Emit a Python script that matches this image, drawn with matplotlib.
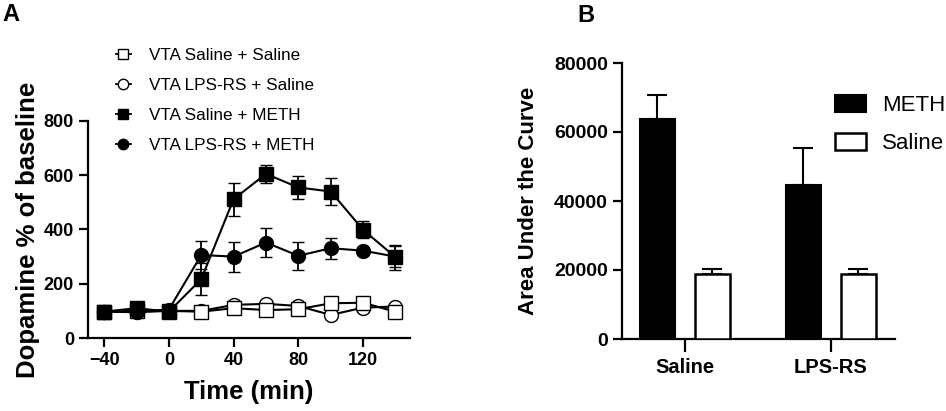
import numpy as np
import matplotlib
matplotlib.use("Agg")
import matplotlib.pyplot as plt
from matplotlib.lines import Line2D
from matplotlib.patches import Patch

plt.rcParams['font.family'] = ['Liberation Sans', 'DejaVu Sans']

# panel A data
time = [-40, -20, 0, 20, 40, 60, 80, 100, 120, 140]
sal_sal = [97, 100, 100, 97, 110, 103, 106, 128, 130, 97]
sal_sal_err = [10, 10, 10, 10, 12, 12, 12, 15, 15, 10]
lps_sal = [97, 95, 100, 100, 122, 126, 118, 85, 112, 116]
lps_sal_err = [10, 10, 10, 10, 12, 12, 12, 15, 15, 10]
sal_meth = [97, 110, 97, 217, 512, 605, 555, 540, 399, 298]
sal_meth_err = [12, 12, 12, 58, 61, 34, 43, 49, 32, 46]
lps_meth = [97, 97, 105, 306, 300, 352, 303, 331, 322, 300]
lps_meth_err = [12, 12, 12, 50, 55, 52, 52, 38, 15, 40]

# panel B data
groups = ["Saline", "LPS-RS"]
auc_meth = [63800, 44600]
auc_meth_err = [6800, 10900]
auc_saline = [18900, 18900]
auc_saline_err = [1350, 1400]

fig = plt.figure(figsize=(9.46, 4.11), dpi=100)

# ---- panel A
axA = fig.add_axes([88/946, 1-338/411, (410-88)/946, (338-121)/411])
series = [
    (lps_sal, lps_sal_err, 'o', 'white'),
    (sal_sal, sal_sal_err, 's', 'white'),
    (lps_meth, lps_meth_err, 'o', 'black'),
    (sal_meth, sal_meth_err, 's', 'black'),
]
for i, (y, e, m, fc) in enumerate(series):
    axA.errorbar(time, y, yerr=e, color='black', lw=1.5, elinewidth=1.3,
                 capsize=4.5, capthick=1.3, marker=m, markersize=10,
                 markerfacecolor=fc, markeredgecolor='black', markeredgewidth=1.0,
                 zorder=3 + i, clip_on=False)

axA.set_xlim(-50, 149)
axA.set_ylim(0, 800)
axA.set_xticks([-40, 0, 40, 80, 120])
axA.set_yticks([0, 200, 400, 600, 800])
for s in ['top', 'right']:
    axA.spines[s].set_visible(False)
for s in ['left', 'bottom']:
    axA.spines[s].set_linewidth(1.6)
axA.tick_params(width=1.6, length=6.5, labelsize=13)
for t in axA.get_xticklabels() + axA.get_yticklabels():
    t.set_fontweight('bold')
axA.set_xlabel("Time (min)", fontsize=18.5, fontweight='bold', labelpad=8)
axA.set_ylabel("Dopamine % of baseline", fontsize=18.5, fontweight='bold', labelpad=3)

handles = [
    Line2D([], [], color='black', lw=1.3, marker='s', markersize=7.5, markerfacecolor='white', markeredgecolor='black'),
    Line2D([], [], color='black', lw=1.3, marker='o', markersize=7.5, markerfacecolor='white', markeredgecolor='black'),
    Line2D([], [], color='black', lw=1.3, marker='s', markersize=7.5, markerfacecolor='black', markeredgecolor='black'),
    Line2D([], [], color='black', lw=1.3, marker='o', markersize=7.5, markerfacecolor='black', markeredgecolor='black'),
]
labels = ["VTA Saline + Saline", "VTA LPS-RS + Saline", "VTA Saline + METH", "VTA LPS-RS + METH"]
fig.legend(handles, labels, loc='upper left', bbox_to_anchor=(116/946, 1-48/411),
           frameon=False, fontsize=12.3, borderpad=0, borderaxespad=0,
           handlelength=0.85, handletextpad=1.1, labelspacing=0.88)

fig.text(2/946, 1-3/411, "A", fontsize=17, fontweight='bold', va='top', ha='left')

# ---- panel B
axB = fig.add_axes([622/946, 1-339/411, (895-622)/946, (339-63)/411])
xpos = np.arange(len(groups))
w = 0.24
off = 0.187
axB.bar(xpos - off, auc_meth, width=w, color='black', edgecolor='black', lw=1.5,
        yerr=[[0] * 2, auc_meth_err], capsize=7, error_kw=dict(elinewidth=1.5, capthick=1.5, ecolor='black'),
        zorder=3)
axB.bar(xpos + off, auc_saline, width=w, color='white', edgecolor='black', lw=1.8,
        yerr=[[0] * 2, auc_saline_err], capsize=7, error_kw=dict(elinewidth=1.5, capthick=1.5, ecolor='black'),
        zorder=3)
axB.set_xlim(-0.43, 1.44)
axB.set_ylim(0, 80000)
axB.set_yticks([0, 20000, 40000, 60000, 80000])
axB.set_xticks(xpos)
axB.set_xticklabels(groups)
for s in ['top', 'right']:
    axB.spines[s].set_visible(False)
for s in ['left', 'bottom']:
    axB.spines[s].set_linewidth(1.6)
axB.tick_params(width=1.6, length=6.5, labelsize=14)
axB.tick_params(axis='x', length=9, pad=5, labelsize=14.5)
for t in axB.get_xticklabels() + axB.get_yticklabels():
    t.set_fontweight('bold')
axB.set_ylabel("Area Under the Curve", fontsize=16, fontweight='bold', labelpad=11)

hB = [Patch(facecolor='black', edgecolor='black', lw=1.5),
      Patch(facecolor='white', edgecolor='black', lw=1.8)]
fig.legend(hB, ["METH", "Saline"], loc='upper left', bbox_to_anchor=(835/946, 1-95/411),
           frameon=False, fontsize=16, borderpad=0, borderaxespad=0,
           handlelength=1.4, handleheight=0.8, handletextpad=0.7, labelspacing=0.75)

fig.text(577/946, 1-4/411, "B", fontsize=17, fontweight='bold', va='top', ha='left')

fig.savefig("out.png", dpi=100)
